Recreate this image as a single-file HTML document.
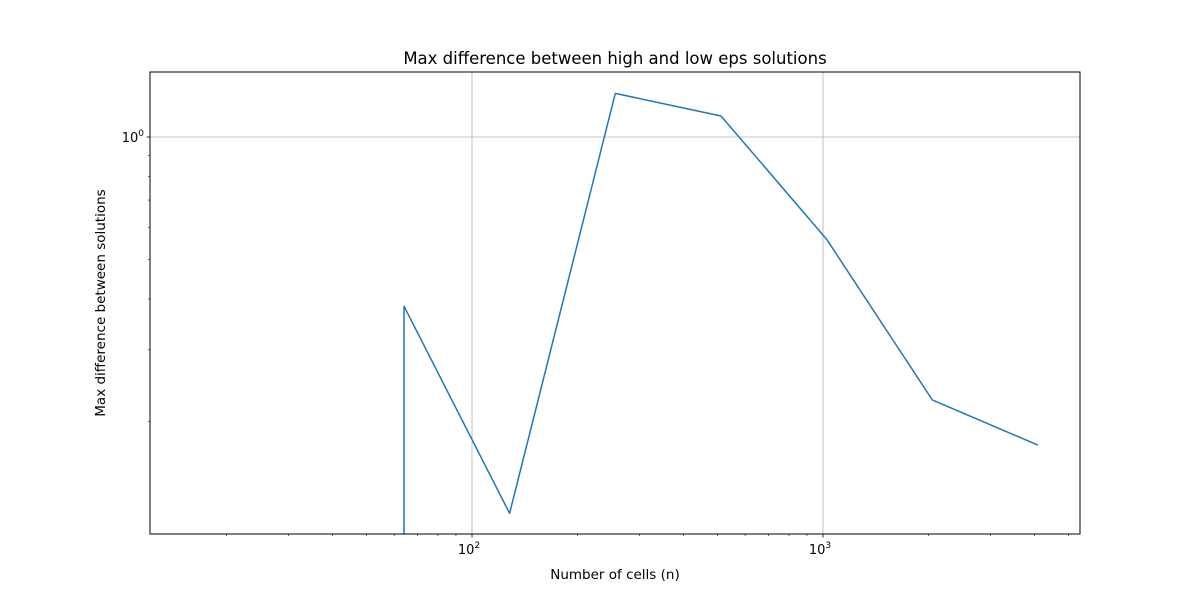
<!DOCTYPE html>
<html><head><meta charset="utf-8"><style>
html,body{margin:0;background:#fff;overflow:hidden;}
svg{display:block;}
svg text{font-family:"DejaVu Sans","Liberation Sans",sans-serif;fill:#000;}
</style></head><body>
<svg id="chart" width="1200" height="600">
<defs><clipPath id="clip"><rect x="150" y="72" width="930" height="462"/></clipPath></defs>
<rect width="1200" height="600" fill="#fff"/>
<g id="grid"></g>
<g id="ticks"></g>
<path id="line" clip-path="url(#clip)" fill="none" stroke="#1f77b4" stroke-width="1.5" stroke-linejoin="round"/>
<rect x="150" y="72" width="930" height="462" fill="none" stroke="#000" stroke-width="1"/>
<text x="615" y="64" font-size="16.5" text-anchor="middle">Max difference between high and low eps solutions</text>
<text x="615" y="579" font-size="13.5" text-anchor="middle">Number of cells (n)</text>
<text transform="translate(105,303) rotate(-90)" font-size="13.5" text-anchor="middle">Max difference between solutions</text>
</svg>
<script>
const cells = [16, 32, 64, 128, 256, 512, 1024, 2048, 4096];
const maxDiff = [0, 0, 0.384, 0.119, 1.28, 1.126, 0.561, 0.226, 0.175];
const xMajor = [100, 1000];
const yMajor = [1];

const L=150,R=1080,T=72,B=534;
function xs(v){return 472+351*(Math.log10(v)-2);}
function ys(v){return v<=0?B+1e7:137-407*Math.log10(v);}
const NS='http://www.w3.org/2000/svg';
const grid=document.getElementById('grid'), ticks=document.getElementById('ticks');
function mk(tag,attrs,parent){const e=document.createElementNS(NS,tag);for(const k in attrs)e.setAttribute(k,attrs[k]);parent.appendChild(e);return e;}
xMajor.forEach(v=>{
  const x=xs(v);
  const g=mk('line',{x1:x,x2:x,y1:T,y2:B,stroke:'#b0b0b0','stroke-width':0.8},grid);
  
  
  mk('line',{x1:x,x2:x,y1:B,y2:B+3.5,stroke:'#000','stroke-width':0.8},ticks);
  const t=mk('text',{x:x-3,y:B+20,'font-size':13,'text-anchor':'middle'},ticks);
  
  
  t.innerHTML='10<tspan dy="-6" font-size="9">'+Math.round(Math.log10(v))+'</tspan>';
});
for(let d=10;d<=1000;d*=10)for(let m=2;m<=9;m++){const v=d*m,x=xs(v);if(x<L||x>R)continue;
  mk('line',{x1:x,x2:x,y1:B,y2:B+2,stroke:'#000','stroke-width':0.6},ticks);}
yMajor.forEach(v=>{
  const y=ys(v);
  const g=mk('line',{x1:L,x2:R,y1:y,y2:y,stroke:'#b0b0b0','stroke-width':0.8},grid);
  
  
  mk('line',{x1:L-3.5,x2:L,y1:y,y2:y,stroke:'#000','stroke-width':0.8},ticks);
  const t=mk('text',{x:L-16,y:y+5,'font-size':13,'text-anchor':'middle'},ticks);
  
  
  t.setAttribute('text-anchor','end');
  t.setAttribute('x',L-6);
  t.innerHTML='10<tspan dy="-6" font-size="9">'+Math.round(Math.log10(v))+'</tspan>';
});
for(let m=1;m<=9;m++){const v=m/10,y=ys(v);if(y<T||y>B)continue;
  mk('line',{x1:L-2,x2:L,y1:y,y2:y,stroke:'#000','stroke-width':0.6},ticks);}
let d='';
cells.forEach((c,i)=>{
  let y=ys(maxDiff[i]), x=xs(c);
  if(maxDiff[i]<=0){
    const nx=cells[i+1]!==undefined?xs(cells[i+1]):x;
    if(maxDiff[i+1]>0){d+=(d?'L':'M')+nx.toFixed(1)+','+(B+20);}
    return;
  }
  d+=(d?'L':'M')+x.toFixed(1)+','+y.toFixed(1);
});
document.getElementById('line').setAttribute('d',d);
</script>
</body></html>
